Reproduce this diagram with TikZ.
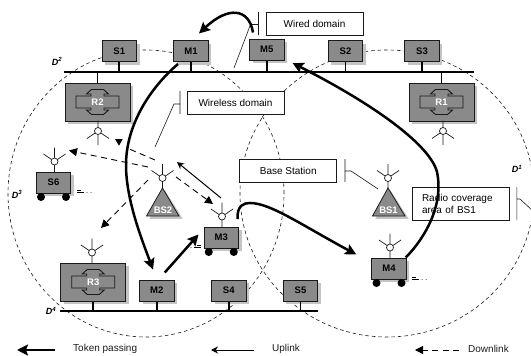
\documentclass[tikz,border=0pt]{standalone}
\usepackage{fontspec}
\setmainfont{Liberation Sans}
\usetikzlibrary{arrows.meta,shadows,calc}
\definecolor{nodegray}{HTML}{8A8A8A}
\definecolor{shadowgray}{HTML}{C4C4C4}
\definecolor{inkdark}{HTML}{1A1A1A}
\tikzset{
  hardshadow/.style={drop shadow={shadow xshift=3pt,shadow yshift=-3pt,fill=shadowgray,opacity=1}},
  stationbox/.style={draw=inkdark,line width=1pt,fill=nodegray,hardshadow,minimum width=34.5pt,minimum height=21pt,inner sep=0pt,font=\fontsize{9.5}{11}\selectfont\bfseries},
  bigbox/.style={draw=inkdark,line width=1pt,fill=nodegray,hardshadow,minimum width=65pt,minimum height=38pt,inner sep=0pt},
  labelbox/.style={draw=inkdark,line width=0.7pt,fill=white,minimum width=97pt,minimum height=23pt,inner sep=0pt,font=\fontsize{10}{12}\selectfont},
  plaintext/.style={inner sep=0pt,font=\fontsize{10}{12}\selectfont,text=inkdark,anchor=west},
  domainlabel/.style={inner sep=0pt,font=\fontsize{9}{10}\selectfont\bfseries\itshape},
  whitelabel/.style={inner sep=0pt,text=white,font=\fontsize{9.5}{11}\selectfont\bfseries},
  busline/.style={line width=2pt,black},
  stub/.style={line width=1.8pt,black},
  coverage/.style={line width=0.6pt,dash pattern=on 3.5pt off 3pt,inkdark},
  callout/.style={line width=0.6pt,inkdark},
  token/.style={line width=2.5pt,black,-{Stealth[length=11pt,width=11pt,inset=2pt]}},
  uplinkarrow/.style={line width=1pt,black,-{Stealth[length=7pt,width=7pt]}},
  downlinkarrow/.style={line width=0.9pt,black,dash pattern=on 6pt off 4.5pt,-{Stealth[length=8pt,width=8pt,inset=0pt]}},
  aerial/.pic={
    \draw[line width=0.7pt,inkdark] (0,-3.5)--(0,-14) (0,0)--(-11,-7.5) (0,0)--(11,-7.5) (0,3)--(0,10.5);
    \draw[line width=0.7pt,inkdark,fill=white] (0,0) circle (3.5pt);
  },
  wheelpair/.pic={
    \fill[black] (-12.5,0) circle (4pt) (12.5,0) circle (4pt);
  },
  trail/.pic={
    \draw[line width=0.6pt,black] (0,0)--(7,0) (0,-2.5)--(4,-2.5);
    \fill[inkdark] (10,0) circle (0.5pt) (14,0) circle (0.5pt);
  },
  arrowicon/.pic={
    \draw[line width=0.9pt,inkdark,fill=nodegray]
      (-21.5,-6)--(-6.5,-6)--(-6.5,-8)--(-11,-8)--(-6,-12.5)--(6,-12.5)--(11,-8)--(6.5,-8)--(6.5,-6)--(21.5,-6)
      --(21.5,6)--(6.5,6)--(6.5,8)--(11,8)--(6,12.5)--(-6,12.5)--(-11,8)--(-6.5,8)--(-6.5,6)--(-21.5,6)--cycle;
  }
}
\begin{document}
\begin{tikzpicture}[x=1pt,y=-1pt]
\useasboundingbox (0,0) rectangle (531,356);
% coverage areas
\draw[coverage] (146,193.5) ellipse (138pt and 143.5pt);
\draw[coverage] (387,193.5) ellipse (147pt and 143.5pt);
% buses
\coordinate (topbusL) at (64,71.5);
\coordinate (topbusR) at (474,71.5);
\coordinate (botbusL) at (60,311);
\coordinate (botbusR) at (317.5,311);
\draw[busline] (topbusL)--(topbusR);
\draw[busline] (botbusL)--(botbusR);
% top stations
\node[stationbox] (S1) at (119.25,51) {S1};
\node[stationbox] (M1) at (191,51) {M1};
\node[stationbox] (M5) at (266.75,49.5) {M5};
\node[stationbox] (S2) at (345.5,51) {S2};
\node[stationbox] (S3) at (422,51) {S3};
\foreach \n in {S1,M1,M5,S2,S3} \draw[stub] (\n.south)--(\n.south |- topbusL);
% routers
\node[bigbox] (R2) at (97.5,102) {};
\node[bigbox] (R1) at (441.5,102) {};
\node[bigbox] (R3) at (93.25,282) {};
\pic at (R2.center) {arrowicon};
\pic at (R1.center) {arrowicon};
\pic at (R3.center) {arrowicon};
\node[whitelabel] (R2t) at (R2.center) {R2};
\node[whitelabel] (R1t) at (R1.center) {R1};
\node[whitelabel] (R3t) at (R3.center) {R3};
\draw[stub] (R2.north)--(R2.north |- topbusL);
\draw[stub] (R1.north)--(R1.north |- topbusL);
\draw[stub] (R3.south)--(R3.south |- botbusL);
% bottom stations
\node[stationbox] (M2) at (156.75,290.5) {M2};
\node[stationbox] (S4) at (228.75,290.5) {S4};
\node[stationbox] (S5) at (300.5,290.5) {S5};
\foreach \n in {M2,S4,S5} \draw[stub] (\n.south)--(\n.south |- botbusL);
% mobile stations
\node[stationbox] (S6) at (53.5,182.5) {S6};
\node[stationbox] (M3) at (221.25,237.5) {M3};
\node[stationbox] (M4) at (389,268.5) {M4};
\pic at (53.5,197) {wheelpair};
\pic at (221.25,252) {wheelpair};
\pic at (389,283) {wheelpair};
\pic at (77,192.5) {trail};
\pic[xscale=-1] at (201,247.5) {trail};
\pic at (412,279.5) {trail};
% aerials
\pic[yscale=-1] at (98,131) {aerial};
\pic[yscale=-1] at (443,131) {aerial};
\pic at (54.5,161.5) {aerial};
\pic at (222,216.5) {aerial};
\pic at (390,247.5) {aerial};
\pic at (92,252.5) {aerial};
\pic at (162.5,178) {aerial};
\pic at (388,178) {aerial};
% base stations
\draw[line width=0.7pt,fill=shadowgray,draw=shadowgray] (165,191)--(182,218.5)--(150,218.5)--cycle;
\draw[line width=0.8pt,fill=nodegray,draw=inkdark] (162.5,188)--(179,216)--(146.5,216)--cycle;
\draw[line width=0.7pt,fill=shadowgray,draw=shadowgray] (390.5,191)--(408,218.5)--(376,218.5)--cycle;
\draw[line width=0.8pt,fill=nodegray,draw=inkdark] (388,188)--(405,216)--(372.5,216)--cycle;
\node[whitelabel] (BS2) at (163,210.5) {BS2};
\node[whitelabel] (BS1) at (388.5,210.5) {BS1};
% label boxes and callouts
\node[labelbox] (wired) at (314.5,23.5) {Wired domain};
\node[labelbox] (wireless) at (235.5,102.5) {Wireless domain};
\node[labelbox] (basest) at (288.25,170.5) {Base Station};
\node[labelbox,minimum height=33pt,align=left,text width=77pt,inner xsep=10pt] (radio) at (460.5,203.5) {Radio coverage\\area of BS1};
\coordinate (c1) at (234,68);
\coordinate (c2) at (155,147);
\coordinate (c3) at (378,189);
\coordinate (c4) at (533,211);
\draw[callout] (258.5,12)--(258.5,35) (258.5,24.5)--(250.5,24.5)--(c1);
\draw[callout] (180,91)--(180,114) (180,104)--(174,104)--(c2);
\draw[callout] (345,159)--(345,182) (345,171)--(351,171)--(c3);
\draw[callout] (516.8,187)--(516.8,220) (516.8,199)--(520,199)--(c4);
% domain names
\node[domainlabel] (D2) at (57,61) {D\textsuperscript{2}};
\node[domainlabel] (D1) at (517,169) {D\textsuperscript{1}};
\node[domainlabel] (D3) at (17,194) {D\textsuperscript{3}};
\node[domainlabel] (D4) at (51,311) {D\textsuperscript{4}};
% token passing
\draw[token] ([xshift=-13.75pt,yshift=6pt]M5.north) .. controls (249,8) and (228,6) .. ([xshift=8pt,yshift=6.5pt]M1.north);
\draw[token] ([xshift=-13pt,yshift=-2pt]M1.south) .. controls (150,88) and (126,125) .. (126,165) .. controls (126,200) and (142,240) .. ([xshift=-3.75pt,yshift=10pt]M2.north);
\draw[token] ([xshift=8pt,yshift=7pt]M2.north) -- ([xshift=-5pt,yshift=3pt]M3.west);
\draw[token] (237.5,219) .. controls (237,205) and (244,203) .. (250,203) .. controls (270,203) and (300,224) .. ([xshift=-15pt,yshift=3pt]M4.north west);
\draw[token] ([xshift=-1pt]M4.north east) .. controls (425,238) and (444,205) .. (437,172) .. controls (430,145) and (375,105) .. ([xshift=8pt,yshift=-2.5pt]M5.south east);
% uplink
\draw[uplinkarrow] (221,198)--(177,162);
% downlink
\coordinate (bsA) at (155,160);
\coordinate (bsB) at (148,167);
\coordinate (bsC) at (148,180);
\coordinate (bsD) at (176,177);
\coordinate (tipR) at (127,148);
\coordinate (tipS) at (69,150.5);
\coordinate (tipT) at (101,228);
\coordinate (tipM) at (213,204);
\draw[line width=0.9pt,black,dash pattern=on 6pt off 4.5pt] (bsA)--(tipR);
\fill[black] (115,139)--(122.7,139)--(119,145.7)--cycle;
\draw[downlinkarrow] (bsB)--(tipS);
\draw[downlinkarrow] (bsC)--(tipT);
\draw[downlinkarrow] (bsD)--(tipM);
% legend
\coordinate (l1a) at (55,350);
\coordinate (l1b) at (17,350);
\coordinate (l2a) at (254,350);
\coordinate (l2b) at (211,350);
\coordinate (l3a) at (459,350);
\coordinate (l3b) at (415,350);
\draw[token] (l1a)--(l1b);
\draw[uplinkarrow] (l2a)--(l2b);
\draw[downlinkarrow] (l3a)--(l3b);
\node[plaintext] (lt1) at (73,349) {Token passing};
\node[plaintext] (lt2) at (272,349) {Uplink};
\node[plaintext] (lt3) at (468,349) {Downlink};
\end{tikzpicture}
\end{document}
